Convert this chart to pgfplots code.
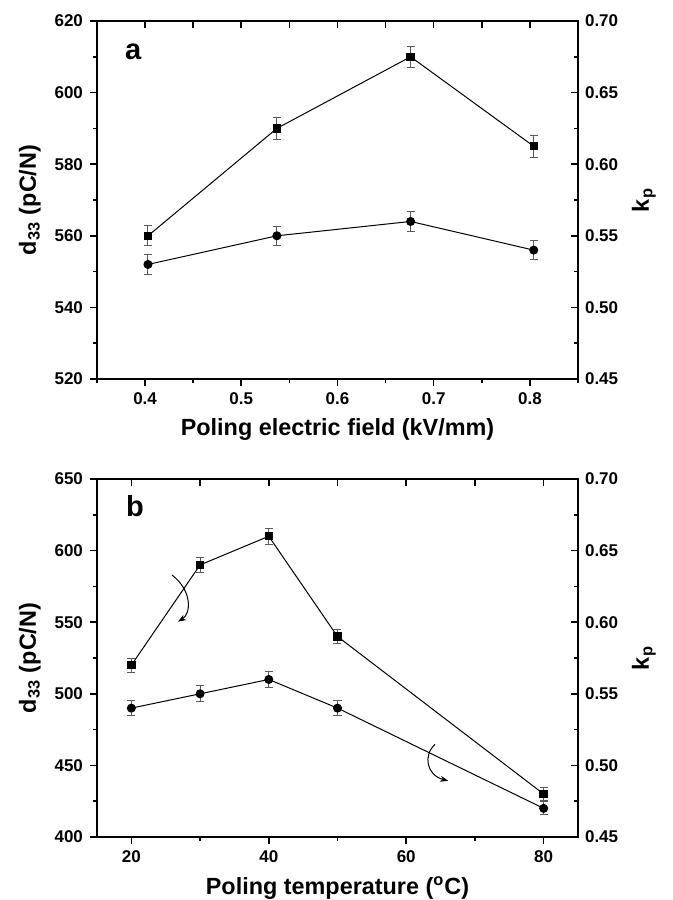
\documentclass[border=0pt]{standalone}
\usepackage{pgfplots}
\pgfplotsset{compat=1.18}
\usepackage{fontspec}
\setmainfont{Liberation Sans}
\usetikzlibrary{arrows.meta}
\definecolor{errc}{gray}{0.35}
\pgfplotsset{
  base/.style={
    scale only axis, width=240.5pt, height=179pt,
    tick label style={font=\fontsize{8.5}{10}\selectfont\bfseries},
    label style={font=\fontsize{11.7}{13}\selectfont\bfseries},
    /pgf/number format/assume math mode=true,
    axis line style={line width=1pt},
    major tick length=3.5pt, minor tick length=2pt,
    every tick/.style={black, line width=0.8pt},
    clip=false,
  },
  lft/.style={base, tick align=outside, xtick pos=bottom, ytick pos=left},
  rgt/.style={base, tick align=inside, axis x line*=top, axis y line*=right,
    xticklabel=\empty,
    yticklabel style={/pgf/number format/.cd, fixed, fixed zerofill, precision=2},
    ytick={0.45,0.50,0.55,0.60,0.65,0.70},
    minor ytick={0.475,0.525,0.575,0.625,0.675},
    ymin=0.45, ymax=0.70},
  sq/.style={black, line width=0.5pt, mark=square*, mark size=1.85pt,
    mark options={solid},
    error bars/.cd, y dir=both, y explicit,
    error bar style={errc, line width=0.5pt},
    error mark options={rotate=90, mark size=2pt, errc, line width=0.5pt}},
  ci/.style={black, line width=0.5pt, mark=*, mark size=2pt,
    mark options={solid},
    error bars/.cd, y dir=both, y explicit,
    error bar style={errc, line width=0.5pt},
    error mark options={rotate=90, mark size=2pt, errc, line width=0.5pt}},
}
\begin{document}
\begin{tikzpicture}
\path[use as bounding box] (0,0) rectangle (336.5pt,450pt);
% ---------- panel a ----------
\begin{axis}[lft, at={(48.5pt,260.5pt)}, anchor=south west,
  xmin=0.35, xmax=0.85, ymin=520, ymax=620,
  xtick={0.4,0.5,0.6,0.7,0.8}, minor xtick={0.35,0.45,0.55,0.65,0.75,0.85},
  ytick={520,540,560,580,600,620}, minor ytick={530,550,570,590,610},
  xlabel={Poling electric field (kV/mm)},
  ylabel={d\textsubscript{33} (pC/N)}]
\addplot+[sq] coordinates {
  (0.403,560) +- (0,2.8)
  (0.537,590) +- (0,3.0)
  (0.676,610) +- (0,3.0)
  (0.804,585) +- (0,3.0)
};
\node[anchor=base west, font=\fontsize{14.5}{16}\selectfont\bfseries] at (rel axis cs:0.044,0.892) {a};
\end{axis}
\begin{axis}[rgt, at={(48.5pt,260.5pt)}, anchor=south west,
  xmin=0.35, xmax=0.85,
  xtick={0.4,0.45,0.5,0.55,0.6,0.65,0.7,0.75,0.8},
  ylabel={k\textsubscript{p}}]
\addplot+[ci] coordinates {
  (0.403,0.530) +- (0,0.0068)
  (0.537,0.550) +- (0,0.0068)
  (0.676,0.560) +- (0,0.0068)
  (0.804,0.540) +- (0,0.0068)
};
\end{axis}
% ---------- panel b ----------
\begin{axis}[lft, at={(48.5pt,31.5pt)}, anchor=south west,
  xmin=15, xmax=85, ymin=400, ymax=650,
  xtick={20,40,60,80}, minor xtick={30,50,70},
  ytick={400,450,500,550,600,650}, minor ytick={425,475,525,575,625},
  xlabel={Poling temperature (\textsuperscript{o}C)},
  ylabel={d\textsubscript{33} (pC/N)}]
\addplot+[sq] coordinates {
  (20,520) +- (0,5.0)
  (30,590) +- (0,5.5)
  (40,610) +- (0,5.5)
  (50,540) +- (0,5.0)
  (80,430) +- (0,4.5)
};
\draw[line width=0.5pt, -{Stealth[length=4pt,width=3pt]}]
  (axis cs:25.9,583) .. controls (axis cs:28.9,572) and (axis cs:28.7,556) .. (axis cs:26.8,550.4);
\draw[line width=0.5pt, -{Stealth[length=4pt,width=3pt]}]
  (axis cs:64.2,464.7) .. controls (axis cs:62.4,457) and (axis cs:63.0,443) .. (axis cs:66.1,439.3);
\node[anchor=base west, font=\fontsize{14.5}{16}\selectfont\bfseries] at (rel axis cs:0.046,0.894) {b};
\end{axis}
\begin{axis}[rgt, at={(48.5pt,31.5pt)}, anchor=south west,
  xmin=15, xmax=85,
  xtick={20,30,40,50,60,70,80},
  ylabel={k\textsubscript{p}}]
\addplot+[ci] coordinates {
  (20,0.540) +- (0,0.0055)
  (30,0.550) +- (0,0.0055)
  (40,0.560) +- (0,0.0055)
  (50,0.540) +- (0,0.0055)
  (80,0.470) +- (0,0.0045)
};
\end{axis}
\end{tikzpicture}
\end{document}
